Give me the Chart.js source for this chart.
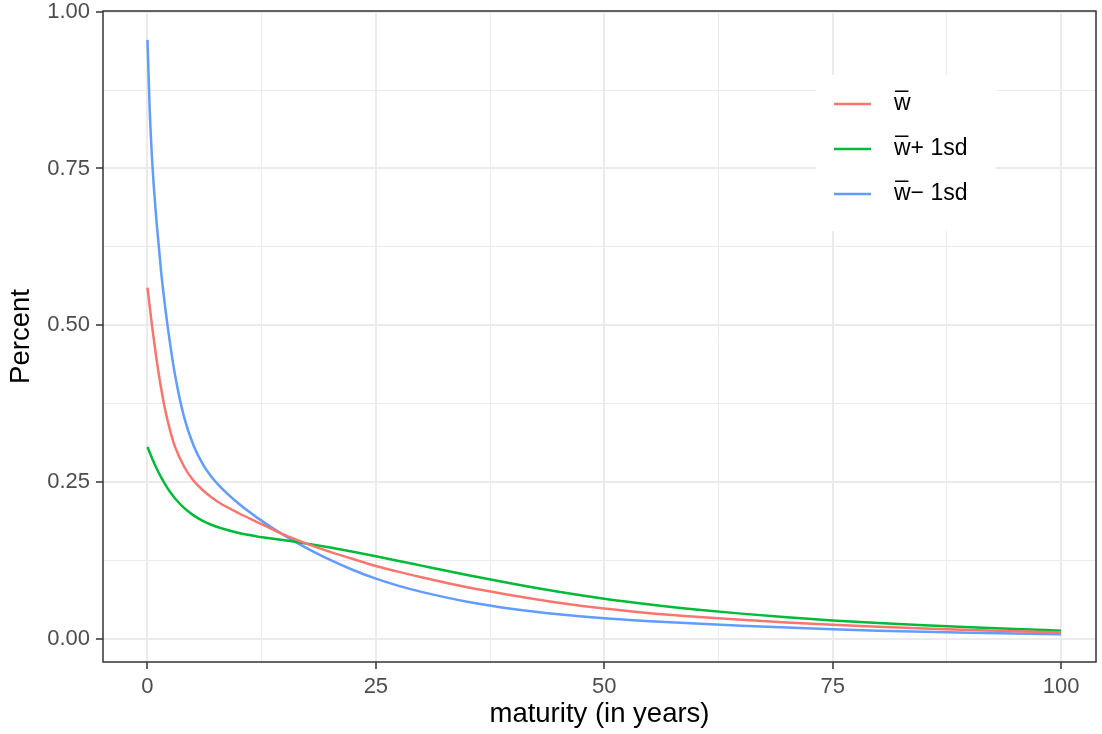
<!DOCTYPE html>
<html><head><meta charset="utf-8">
<script src="https://cdn.jsdelivr.net/npm/chart.js@4"></script>
<style>html,body{margin:0;padding:0;background:#fff}#wrap{width:1102px;height:734px}</style>
</head><body><div id="wrap"><canvas id="c" width="1102" height="734"></canvas></div>
<script>
const maturity = [0,0.25,0.5,0.75,1,1.5,2,2.5,3,4,5,6,7,8,10,12,14,16,18,20,22.5,25,27.5,30,35,40,45,50,55,60,65,70,75,80,85,90,95,100];
const wMean  = [0.56,0.5295,0.499,0.4715,0.445,0.399,0.361,0.331,0.307,0.275,0.253,0.238,0.226,0.216,0.2005,0.1865,0.1725,0.160,0.149,0.139,0.1275,0.1165,0.107,0.0985,0.0825,0.0695,0.058,0.0485,0.0412,0.0355,0.0306,0.0263,0.0226,0.0194,0.0167,0.0144,0.0124,0.0107];
const wPlus  = [0.306,0.2968,0.288,0.2797,0.2719,0.2577,0.245,0.234,0.2245,0.209,0.1975,0.1888,0.1822,0.177,0.169,0.1636,0.1594,0.1553,0.1508,0.1458,0.139,0.1318,0.1245,0.117,0.1022,0.088,0.0752,0.0642,0.055,0.0472,0.0405,0.0347,0.0297,0.0255,0.0219,0.0188,0.0159,0.0134];
const wMinus = [0.955,0.8413,0.7657,0.7101,0.6632,0.5844,0.5214,0.468,0.422,0.354,0.310,0.280,0.2585,0.242,0.2155,0.1935,0.174,0.1565,0.1405,0.126,0.110,0.0962,0.0848,0.0752,0.0595,0.048,0.0395,0.033,0.0285,0.0246,0.0212,0.0182,0.0155,0.0134,0.0115,0.0100,0.0087,0.0075];
const seriesLabels = ["w\u0305", "w\u0305+ 1sd", "w\u0305\u2212 1sd"];
const seriesColors = ["#F8766D", "#00BA38", "#619CFF"];
const xMajorTicks = [0,25,50,75,100];
const xMinorTicks = [12.5,37.5,62.5,87.5];
const yMajorTicks = [0,0.25,0.5,0.75,1];
const yMinorTicks = [0.125,0.375,0.625,0.875];

const FONT = '"Liberation Sans", Arial, sans-serif';
const series = [wMean, wPlus, wMinus];

const isMajor = (list, v) => list.some(m => Math.abs(m - v) < 1e-9);

const borderPlugin = {
  id: 'panelBorder',
  afterDraw(chart) {
    const {ctx, chartArea: a} = chart;
    ctx.save();
    ctx.strokeStyle = '#333333';
    ctx.lineWidth = 1.5;
    ctx.strokeRect(a.left, a.top, a.right - a.left, a.bottom - a.top);
    ctx.restore();
  }
};

const legendPlugin = {
  id: 'ggLegend',
  afterDraw(chart) {
    const c = chart.ctx;
    c.save();
    c.fillStyle = '#ffffff';
    c.fillRect(816, 75, 180, 156);
    chart.data.datasets.forEach((ds, i) => {
      const y = 104 + 45 * i;
      c.strokeStyle = ds.borderColor;
      c.lineWidth = 2.5;
      c.beginPath(); c.moveTo(834, y); c.lineTo(871, y); c.stroke();
      c.fillStyle = '#000000';
      c.font = '23px ' + FONT;
      c.textBaseline = 'middle';
      c.textAlign = 'left';
      c.fillText(ds.label, 894, y);
    });
    c.restore();
  }
};

new Chart(document.getElementById('c'), {
  type: 'line',
  data: {
    datasets: series.map((s, i) => ({
      label: seriesLabels[i],
      data: maturity.map((x, j) => ({x: x, y: s[j]})),
      borderColor: seriesColors[i],
      backgroundColor: seriesColors[i],
      borderWidth: 2.5,
      pointRadius: 0,
      fill: false,
      cubicInterpolationMode: 'monotone'
    }))
  },
  options: {
    responsive: false,
    animation: false,
    devicePixelRatio: 1,
    layout: {padding: {top: 11, right: 6, left: 0, bottom: 0}},
    plugins: {legend: {display: false}, tooltip: {enabled: false}},
    scales: {
      x: {
        type: 'linear', min: -4.87, max: 103.83,
        afterBuildTicks: s => { s.ticks = xMajorTicks.concat(xMinorTicks).sort((a,b)=>a-b).map(v => ({value: v})); },
        afterFit: s => { s.height = 72; s.paddingLeft = 0; s.paddingRight = 0; },
        ticks: {
          autoSkip: false, maxRotation: 0, minRotation: 0, padding: 6,
          color: '#4D4D4D', font: {family: FONT, size: 22, lineHeight: 1.1},
          callback: v => isMajor(xMajorTicks, v) ? String(v) : ''
        },
        grid: {
          color: '#EBEBEB',
          lineWidth: ctx => (ctx.tick && isMajor(xMajorTicks, ctx.tick.value)) ? 2 : 1,
          tickLength: 7,
          tickWidth: 1.5,
          tickColor: ctx => (ctx.tick && isMajor(xMajorTicks, ctx.tick.value)) ? '#333333' : 'rgba(0,0,0,0)'
        },
        border: {display: false},
        title: {display: true, text: 'maturity (in years)', color: '#000000', font: {family: FONT, size: 27.5, lineHeight: 1.2}, padding: {top: 0, bottom: 3.5}}
      },
      y: {
        type: 'linear', min: -0.0366, max: 1.001,
        afterBuildTicks: s => { s.ticks = yMajorTicks.concat(yMinorTicks).sort((a,b)=>a-b).map(v => ({value: v})); },
        afterFit: s => { s.width = 103; s.paddingTop = 0; s.paddingBottom = 0; },
        ticks: {
          autoSkip: false, padding: 6,
          color: '#4D4D4D', font: {family: FONT, size: 22, lineHeight: 1.0},
          callback: v => isMajor(yMajorTicks, v) ? v.toFixed(2) : ''
        },
        grid: {
          color: '#EBEBEB',
          lineWidth: ctx => (ctx.tick && isMajor(yMajorTicks, ctx.tick.value)) ? 2 : 1,
          tickLength: 7,
          tickWidth: 1.5,
          tickColor: ctx => (ctx.tick && isMajor(yMajorTicks, ctx.tick.value)) ? '#333333' : 'rgba(0,0,0,0)'
        },
        border: {display: false},
        title: {display: true, text: 'Percent', color: '#000000', font: {family: FONT, size: 27.5, lineHeight: 1.2}, padding: {top: 4.5, bottom: 0}}
      }
    }
  },
  plugins: [borderPlugin, legendPlugin]
});
</script>
</body></html>
